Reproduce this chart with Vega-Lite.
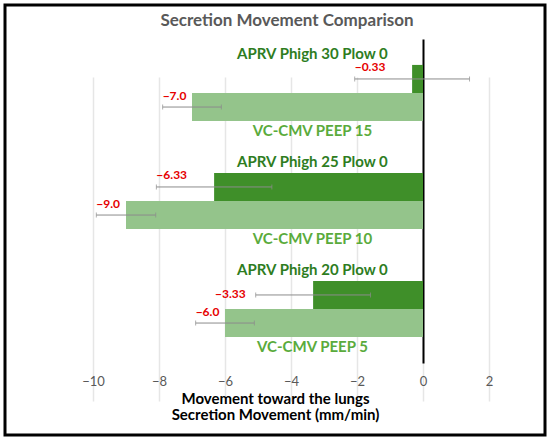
{
  "$schema": "https://vega.github.io/schema/vega-lite/v6.json",
  "width": 540,
  "height": 430,
  "autosize": "none",
  "padding": {"left": 5, "right": 5, "top": 5, "bottom": 7},
  "background": "white",
  "title": {
    "text": "Secretion Movement Comparison",
    "font": "Lato",
    "fontSize": 17,
    "fontWeight": "bold",
    "color": "#595959",
    "anchor": "middle",
    "baseline": "bottom",
    "offset": -20,
    "dx": 12,
    "dy": 22
  },
  "data": {
    "values": [
      {"pair": "P1", "mode": "APRV", "label": "APRV Phigh 30 Plow 0", "value": -0.33, "shown": "−0.33", "low": -2.07, "high": 1.41},
      {"pair": "P1", "mode": "VC-CMV", "label": "VC-CMV PEEP 15", "value": -7.0, "shown": "−7.0", "low": -7.89, "high": -6.11},
      {"pair": "P2", "mode": "APRV", "label": "APRV Phigh 25 Plow 0", "value": -6.33, "shown": "−6.33", "low": -8.08, "high": -4.58},
      {"pair": "P2", "mode": "VC-CMV", "label": "VC-CMV PEEP 10", "value": -9.0, "shown": "−9.0", "low": -9.9, "high": -8.1},
      {"pair": "P3", "mode": "APRV", "label": "APRV Phigh 20 Plow 0", "value": -3.33, "shown": "−3.33", "low": -5.07, "high": -1.59},
      {"pair": "P3", "mode": "VC-CMV", "label": "VC-CMV PEEP 5", "value": -6.0, "shown": "−6.0", "low": -6.89, "high": -5.11}
    ]
  },
  "encoding": {
    "y": {
      "field": "pair",
      "type": "nominal",
      "sort": ["P1", "P2", "P3"],
      "scale": {"range": [34, 358], "paddingInner": 0.48, "paddingOuter": 0.24},
      "axis": {
        "labels": false,
        "ticks": false,
        "title": null,
        "grid": false,
        "domainColor": "black",
        "domainWidth": 2,
        "offset": -418
      }
    },
    "yOffset": {
      "field": "mode",
      "type": "nominal",
      "sort": ["APRV", "VC-CMV"],
      "scale": {"paddingInner": 0, "paddingOuter": 0}
    }
  },
  "layer": [
    {
      "mark": {"type": "bar"},
      "encoding": {
        "x": {
          "field": "value",
          "type": "quantitative",
          "scale": {"domain": [-12.667, 3.697], "nice": false, "zero": false},
          "axis": {
            "values": [-10, -8, -6, -4, -2, 0, 2],
            "grid": true,
            "gridColor": "#e6e6e6",
            "gridWidth": 1.5,
            "domain": false,
            "ticks": false,
            "offset": -72,
            "labelFont": "Lato",
            "labelFontSize": 13,
            "labelColor": "#595959",
            "labelPadding": 12,
            "title": ["Movement toward the lungs", "Secretion Movement (mm/min)"],
            "titleFont": "Lato",
            "titleFontSize": 15,
            "titleFontWeight": "bold",
            "titleColor": "black",
            "titlePadding": 3,
            "titleLineHeight": 16
          }
        },
        "color": {
          "field": "mode",
          "type": "nominal",
          "scale": {"domain": ["APRV", "VC-CMV"], "range": ["#3f8f29", "#94c48b"]},
          "legend": null
        }
      }
    },
    {
      "mark": {"type": "rule", "color": "#8c8c8c", "strokeWidth": 1},
      "encoding": {
        "x": {"field": "low", "type": "quantitative"},
        "x2": {"field": "high"}
      }
    },
    {
      "mark": {"type": "tick", "color": "#8c8c8c", "size": 5, "thickness": 1, "orient": "vertical"},
      "encoding": {"x": {"field": "low", "type": "quantitative"}}
    },
    {
      "mark": {"type": "tick", "color": "#8c8c8c", "size": 5, "thickness": 1, "orient": "vertical"},
      "encoding": {"x": {"field": "high", "type": "quantitative"}}
    },
    {
      "transform": [{"filter": "datum.mode == 'APRV'"}],
      "mark": {"type": "text", "font": "Lato", "fontSize": 15, "fontWeight": "bold", "color": "#2e7d1f", "align": "center", "baseline": "middle", "dy": -24.5},
      "encoding": {"x": {"datum": -3.35}, "text": {"field": "label"}}
    },
    {
      "transform": [{"filter": "datum.mode == 'VC-CMV'"}],
      "mark": {"type": "text", "font": "Lato", "fontSize": 15, "fontWeight": "bold", "color": "#5aab3c", "align": "center", "baseline": "middle", "dy": 24},
      "encoding": {"x": {"datum": -3.35}, "text": {"field": "label"}}
    },
    {
      "transform": [{"filter": "datum.label != 'APRV Phigh 20 Plow 0'"}],
      "mark": {"type": "text", "font": "Lato", "fontSize": 12, "fontWeight": "bold", "color": "#e60000", "align": "left", "baseline": "middle", "dy": -11.5},
      "encoding": {"x": {"field": "low", "type": "quantitative"}, "text": {"field": "shown"}}
    },
    {
      "transform": [{"filter": "datum.label == 'APRV Phigh 20 Plow 0'"}],
      "mark": {"type": "text", "font": "Lato", "fontSize": 12, "fontWeight": "bold", "color": "#e60000", "align": "right", "baseline": "middle", "dx": -10, "dy": -1},
      "encoding": {"x": {"field": "low", "type": "quantitative"}, "text": {"field": "shown"}}
    }
  ],
  "config": {
    "view": {"stroke": "black", "strokeWidth": 3}
  }
}
